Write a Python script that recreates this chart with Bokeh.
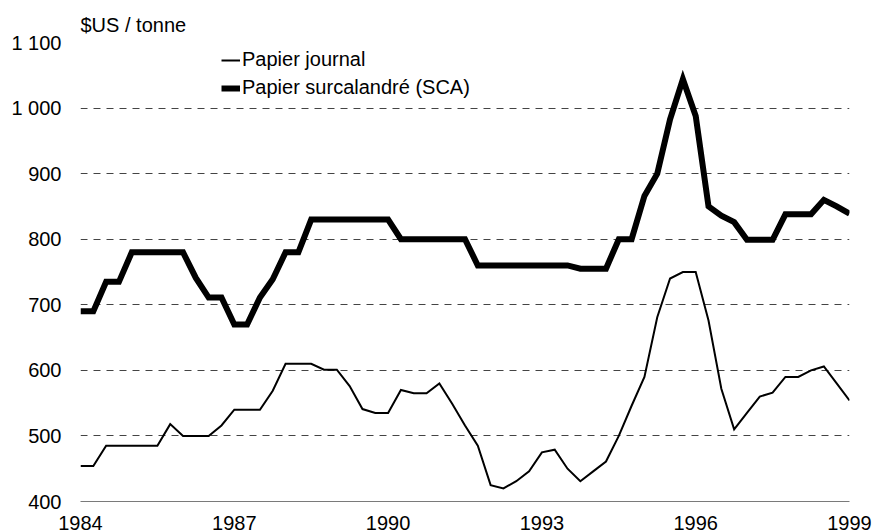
from bokeh.plotting import figure
from bokeh.models import Legend, LegendItem, FixedTicker, Range1d
from bokeh.embed import file_html
from bokeh.resources import INLINE

# Quarterly observations, 1984 Q1 .. 1999 Q1
start_year = 1984
n_quarters = 61
quarters = [start_year + q / 4 for q in range(n_quarters)]

papier_journal = [
    454, 454, 485, 485, 485, 485, 485, 518, 500, 500,
    500, 516, 540, 540, 540, 569, 610, 610, 610, 601,
    601, 576, 541, 535, 535, 570, 565, 565, 580, 549,
    516, 485, 425, 420, 431, 446, 475, 479, 450, 431,
    446, 461, 500, 546, 590, 681, 740, 750, 750, 676,
    572, 510, 535, 560, 566, 590, 590, 600, 606, 580,
    554,
]
papier_sca = [
    690, 690, 735, 735, 780, 780, 780, 780, 780, 741,
    711, 711, 670, 670, 711, 739, 780, 780, 830, 830,
    830, 830, 830, 830, 830, 800, 800, 800, 800, 800,
    800, 760, 760, 760, 760, 760, 760, 760, 760, 755,
    755, 755, 800, 800, 866, 900, 983, 1044, 988, 850,
    836, 826, 799, 799, 799, 838, 838, 838, 860, 850,
    839,
]

x_ticks = [1984, 1987, 1990, 1993, 1996, 1999]
y_ticks = [400, 500, 600, 700, 800, 900, 1000, 1100]
y_tick_labels = {t: (f"{t // 1000} {t % 1000:03d}" if t >= 1000 else str(t)) for t in y_ticks}

series_names = ["Papier journal", "Papier surcalandré (SCA)"]
unit_label = "$US / tonne"

FONT = "Liberation Sans"

p = figure(width=873, height=532, output_backend="svg", toolbar_location=None,
           x_range=Range1d(1984, 1999), y_range=Range1d(400, 1100),
           min_border_left=80, min_border_right=24, min_border_top=42,
           min_border_bottom=31)
p.outline_line_color = None
p.background_fill_color = "white"

p.title.text = unit_label
p.title.text_font = FONT
p.title.text_font_size = "20px"
p.title.text_font_style = "normal"
p.title.text_color = "black"
p.title.align = "left"
p.title.standoff = 14

r1 = p.line(quarters, papier_journal, line_color="black", line_width=2, line_join="miter")
r2 = p.line(quarters, papier_sca, line_color="black", line_width=6, line_join="miter")

p.xgrid.visible = False
p.ygrid.grid_line_color = "#444444"
p.ygrid.grid_line_dash = "7 6"
p.ygrid.grid_line_width = 1

p.xaxis.ticker = FixedTicker(ticks=x_ticks)
p.yaxis.ticker = FixedTicker(ticks=y_ticks)
p.yaxis.major_label_overrides = y_tick_labels
for ax in (p.xaxis[0], p.yaxis[0]):
    ax.major_tick_line_color = None
    ax.minor_tick_line_color = None
    ax.major_label_text_font = FONT
    ax.major_label_text_font_size = "20px"
    ax.major_label_text_color = "black"
p.yaxis.axis_line_color = None
p.yaxis.major_label_standoff = 13
p.xaxis.axis_line_color = "#7a7a7a"
p.xaxis.major_label_standoff = 8

legend = Legend(items=[LegendItem(label=series_names[0], renderers=[r1]),
                       LegendItem(label=series_names[1], renderers=[r2])],
                location=(141, 402))
legend.border_line_color = None
legend.background_fill_alpha = 0
legend.label_text_font = FONT
legend.label_text_font_size = "20px"
legend.label_text_color = "black"
legend.glyph_width = 19
legend.label_standoff = 2
legend.padding = 0
legend.margin = 0
legend.spacing = 5
p.add_layout(legend)

open("out.html", "w").write(file_html(p, INLINE))
